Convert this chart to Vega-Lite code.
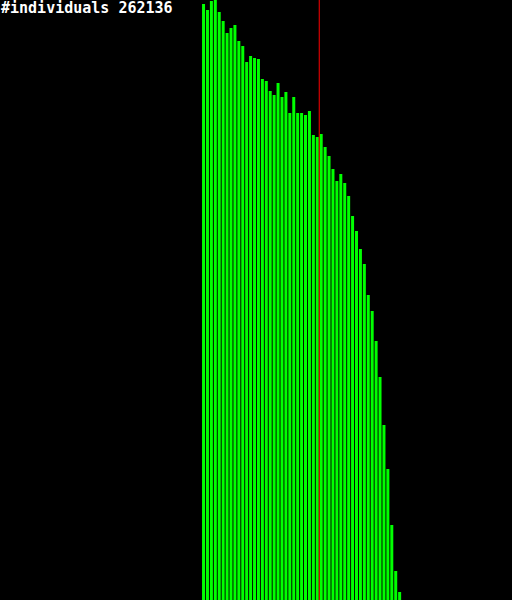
{
  "$schema": "https://vega.github.io/schema/vega-lite/v6.json",
  "width": 512,
  "height": 600,
  "padding": 0,
  "autosize": "none",
  "background": "black",
  "config": {"view": {"stroke": null}},
  "datasets": {
    "hist": [
      {"bin": 50, "count": 596}, {"bin": 51, "count": 590}, {"bin": 52, "count": 599}, {"bin": 53, "count": 600},
      {"bin": 54, "count": 588}, {"bin": 55, "count": 579}, {"bin": 56, "count": 567}, {"bin": 57, "count": 572},
      {"bin": 58, "count": 575}, {"bin": 59, "count": 559}, {"bin": 60, "count": 554}, {"bin": 61, "count": 538},
      {"bin": 62, "count": 544}, {"bin": 63, "count": 542}, {"bin": 64, "count": 541}, {"bin": 65, "count": 521},
      {"bin": 66, "count": 519}, {"bin": 67, "count": 509}, {"bin": 68, "count": 505}, {"bin": 69, "count": 517},
      {"bin": 70, "count": 503}, {"bin": 71, "count": 508}, {"bin": 72, "count": 487}, {"bin": 73, "count": 503},
      {"bin": 74, "count": 487}, {"bin": 75, "count": 487}, {"bin": 76, "count": 485}, {"bin": 77, "count": 489},
      {"bin": 78, "count": 465}, {"bin": 79, "count": 463}, {"bin": 80, "count": 466}, {"bin": 81, "count": 453},
      {"bin": 82, "count": 444}, {"bin": 83, "count": 431}, {"bin": 84, "count": 419}, {"bin": 85, "count": 426},
      {"bin": 86, "count": 417}, {"bin": 87, "count": 404}, {"bin": 88, "count": 384}, {"bin": 89, "count": 369},
      {"bin": 90, "count": 351}, {"bin": 91, "count": 336}, {"bin": 92, "count": 305}, {"bin": 93, "count": 289},
      {"bin": 94, "count": 259}, {"bin": 95, "count": 223}, {"bin": 96, "count": 175}, {"bin": 97, "count": 131},
      {"bin": 98, "count": 75}, {"bin": 99, "count": 29}, {"bin": 100, "count": 8}
    ],
    "marker": [{"pos": 79.5, "top": 600, "bottom": 0}],
    "label": [{"text": "#individuals 262136", "x": -0.625, "y": 600}]
  },
  "layer": [
    {
      "data": {"name": "hist"},
      "mark": {"type": "bar", "width": 3, "color": "#00ff00", "stroke": null},
      "encoding": {
        "x": {"field": "bin", "type": "quantitative", "scale": {"domain": [-0.625, 127.375], "nice": false, "zero": false}, "axis": null},
        "y": {"field": "count", "type": "quantitative", "scale": {"domain": [0, 600], "nice": false}, "axis": null}
      }
    },
    {
      "data": {"name": "label"},
      "mark": {"type": "text", "align": "left", "baseline": "alphabetic", "dx": -4, "dy": 13, "color": "white", "font": "DejaVu Sans Mono", "fontWeight": "bold", "fontSize": 15},
      "encoding": {
        "x": {"field": "x", "type": "quantitative"},
        "y": {"field": "y", "type": "quantitative"},
        "text": {"field": "text"}
      }
    },
    {
      "data": {"name": "marker"},
      "mark": {"type": "bar", "orient": "vertical", "width": 1, "color": "#ff0000", "stroke": null},
      "encoding": {
        "x": {"field": "pos", "type": "quantitative"},
        "y": {"field": "top", "type": "quantitative"},
        "y2": {"field": "bottom"}
      }
    }
  ]
}
